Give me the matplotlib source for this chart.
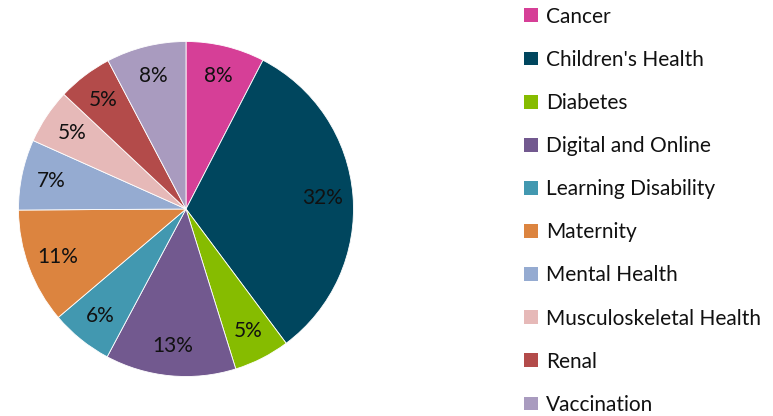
import matplotlib
matplotlib.use("Agg")
import matplotlib.pyplot as plt
from matplotlib.patches import Patch

categories = ["Cancer", "Children's Health", "Diabetes", "Digital and Online",
              "Learning Disability", "Maternity", "Mental Health",
              "Musculoskeletal Health", "Renal", "Vaccination"]
values = [7.6, 32.2, 5.4, 12.6, 6.0, 11.1, 6.8, 5.3, 5.3, 7.7]
colors = ["#D63F97", "#00465E", "#86BC00", "#72598F", "#4298B0",
          "#DC843F", "#95ABD1", "#E6B9B8", "#B34B4A", "#A99BBF"]

plt.rcParams['font.family'] = ['Lato', 'DejaVu Sans']

W, H = 773, 416
fig = plt.figure(figsize=(W/100, H/100), dpi=100)
cx, cy, r = 186, 209, 167.5
ax = fig.add_axes([(cx - r)/W, (H - cy - r)/H, 2*r/W, 2*r/H])
wedges, texts, autotexts = ax.pie(values, colors=colors, startangle=90, counterclock=False,
       radius=1, autopct='%.0f%%', pctdistance=0.82,
       wedgeprops=dict(edgecolor='white', linewidth=0.6),
       textprops=dict(fontsize=15, color='#111111'))
ax.set_xlim(-1, 1)
ax.set_ylim(-1, 1)
ax.set_aspect('equal')
ax.axis('off')

handles = [Patch(facecolor=c, edgecolor='none') for c in colors]
leg = fig.legend(handles, categories, loc='upper left', bbox_to_anchor=(520/W, 1 - 2.5/H),
                 frameon=False, fontsize=15, handlelength=0.65, handleheight=0.65,
                 handletextpad=0.4, labelspacing=1.11, borderaxespad=0, borderpad=0.2,
                 labelcolor='#111111')

fig.savefig("out.png", dpi=100)
